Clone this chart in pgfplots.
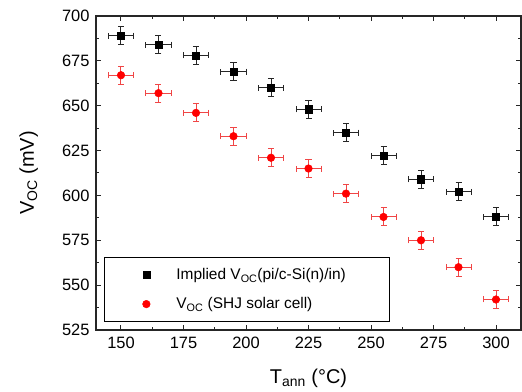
\documentclass[border=0pt]{standalone}
\usepackage{pgfplots}
\pgfplotsset{compat=1.18}
\usepackage{fontspec}
\setmainfont{Liberation Sans}
\definecolor{myred}{RGB}{255,0,0}
\definecolor{errred}{RGB}{240,70,70}
\begin{document}
\begin{tikzpicture}
\begin{axis}[
  scale only axis,
  width=425bp, height=314bp,
  at={(0,0)}, anchor=south west,
  xmin=140, xmax=310, ymin=525, ymax=700,
  xtick={150,175,...,300}, ytick={525,550,...,700},
  minor x tick num=1, minor y tick num=1,
  tick align=inside,
  major tick length=5bp, minor tick length=3bp,
  axis line style={line width=1.2bp, black!85},
  every tick/.style={line width=1bp, black!85},
  /pgf/number format/assume math mode=true,
  tick label style={font=\fontsize{16.5}{19}\selectfont},
  xticklabel style={yshift=-4bp},
  yticklabel style={xshift=-3bp},
  every axis x label/.style={at={(axis description cs:0.5,0)}, yshift=-53bp, anchor=base},
  every axis y label/.style={at={(axis description cs:0,0.5)}, xshift=-62bp, rotate=90, anchor=base},
  label style={font=\fontsize{20}{24}\selectfont},
  xlabel={T\textsubscript{ann} (°C)},
  ylabel={V\textsubscript{OC} (mV)},
  legend style={at={(axis description cs:0.0188,0.0255)}, anchor=south west, draw=black, line width=0.8bp, fill=white, inner xsep=0pt, inner ysep=3bp, nodes={inner sep=0pt}, row sep=0pt, font=\fontsize{15.5}{18}\selectfont},
  legend cell align=left,
  legend image code/.code={\pgfpathrectangle{\pgfpoint{-42bp}{-14.5bp}}{\pgfpoint{72bp}{29bp}}\pgfusepath{use as bounding box} \draw[#1] plot coordinates {(0bp,0bp)};},
]
\addplot[only marks, mark=square*, mark size=3.6bp, black, mark options={line width=0.5bp},
  error bars/.cd, x dir=both, x explicit, y dir=both, y explicit,
  error bar style={line width=1bp, black!85},
  error mark=-,
  error mark options={rotate=90, mark size=3bp, line width=1bp, black!85}]
coordinates {
(150,689) +- (5,5)
(165,684) +- (5,5)
(180,678) +- (5,5)
(195,669) +- (5,5)
(210,660) +- (5,5)
(225,648) +- (5,5)
(240,635) +- (5,5)
(255,622) +- (5,5)
(270,609) +- (5,5)
(285,602) +- (5,5)
(300,588) +- (5,5)
};
\addlegendentry{\makebox[213bp][l]{Implied V\textsubscript{OC}(pi/c-Si(n)/in)}}
\addplot[only marks, mark=*, mark size=3.8bp, myred, mark options={line width=0.5bp},
  error bars/.cd, x dir=both, x explicit, y dir=both, y explicit,
  error bar style={line width=1bp, errred},
  error mark=-,
  error mark options={rotate=90, mark size=3bp, line width=1bp, errred}]
coordinates {
(150,667) +- (5,5)
(165,657) +- (5,5)
(180,646) +- (5,5)
(195,633) +- (5,5)
(210,621) +- (5,5)
(225,615) +- (5,5)
(240,601) +- (5,5)
(255,588) +- (5,5)
(270,575) +- (5,5)
(285,560) +- (5,5)
(300,542) +- (5,5)
};
\addlegendentry{V\textsubscript{OC} (SHJ solar cell)}
\end{axis}
\pgfresetboundingbox
\path (-96bp,-62bp) rectangle (426bp,330bp);
\end{tikzpicture}
\end{document}
